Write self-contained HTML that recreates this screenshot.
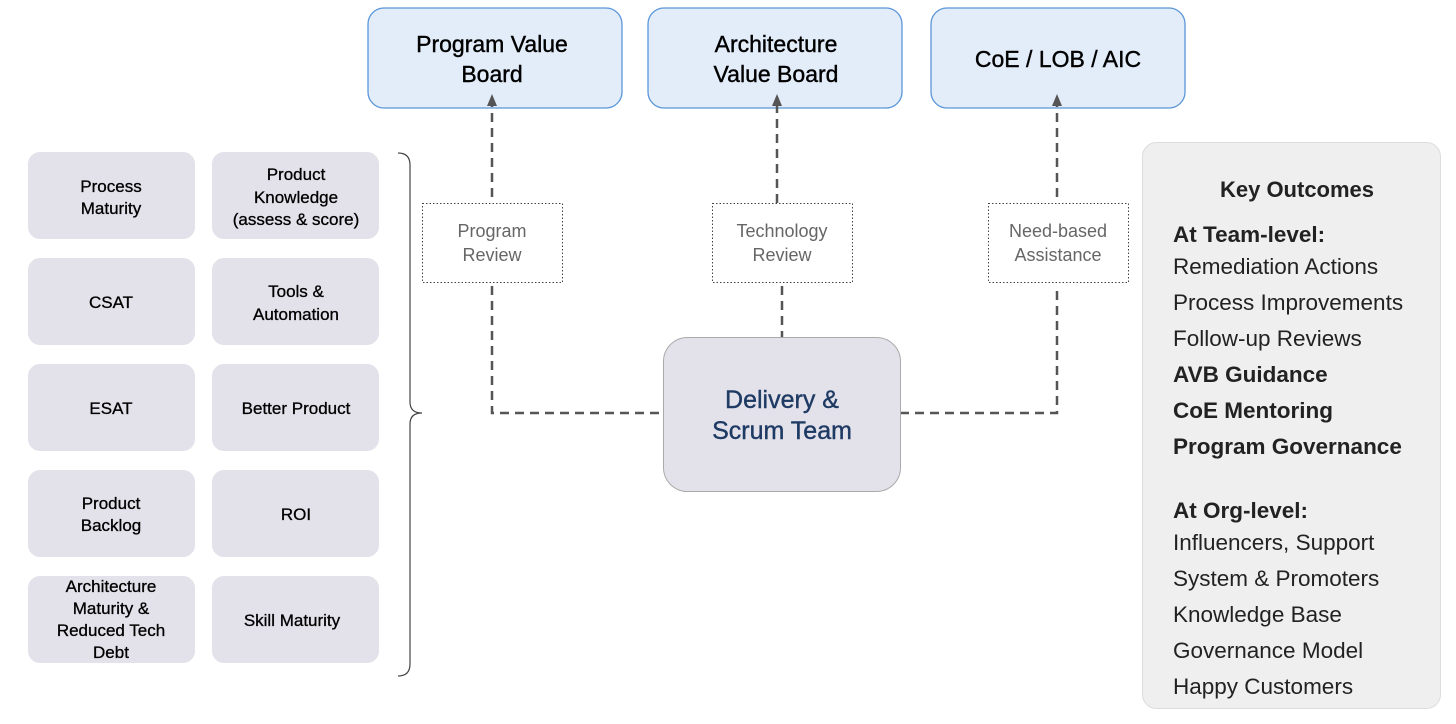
<!DOCTYPE html>
<html><head><meta charset="utf-8"><style>
html,body{margin:0;padding:0;background:#fff;}
svg{display:block;font-family:"Liberation Sans",sans-serif;}
</style></head><body>
<svg width="1456" height="724" viewBox="0 0 1456 724" xmlns="http://www.w3.org/2000/svg">
<defs>
<marker id="ar" markerWidth="12" markerHeight="12" refX="9" refY="5" orient="auto" markerUnits="userSpaceOnUse">
<path d="M0,0 L12,5 L0,10 Z" fill="#555"/>
</marker>
</defs>
<g fill="#e3ecf9" stroke="#5a96d8" stroke-width="1.3">
<rect x="368" y="8" width="254" height="100" rx="16"/>
<rect x="648" y="8" width="254" height="100" rx="16"/>
<rect x="931" y="8" width="254" height="100" rx="16"/>
</g>
<g font-size="23" fill="#000" text-anchor="middle" stroke="#000" stroke-width="0.4">
<text x="492" y="52">Program Value</text><text x="492" y="82">Board</text>
<text x="776" y="52">Architecture</text><text x="776" y="82">Value Board</text>
<text x="1058" y="67">CoE / LOB / AIC</text>
</g>
<g stroke="#555" stroke-width="2.5" stroke-dasharray="9,6" fill="none">
<line x1="492" y1="197" x2="492" y2="97" marker-end="url(#ar)"/>
<line x1="777" y1="203" x2="777" y2="97" marker-end="url(#ar)"/>
<line x1="1057" y1="197" x2="1057" y2="97" marker-end="url(#ar)"/>
<polyline points="492,286 492,413 663,413"/>
<polyline points="900,413 1057,413 1057,286"/>
<line x1="782" y1="286" x2="782" y2="337"/>
</g>
<g fill="#fff" stroke="#444" stroke-width="1" stroke-dasharray="1.5,2">
<rect x="422.5" y="203.5" width="140" height="79"/>
<rect x="712.5" y="203.5" width="140" height="79"/>
<rect x="988.5" y="203.5" width="140" height="79"/>
</g>
<g font-size="18" fill="#666" text-anchor="middle">
<text x="492" y="237">Program</text><text x="492" y="261">Review</text>
<text x="782" y="237">Technology</text><text x="782" y="261">Review</text>
<text x="1058" y="237">Need-based</text><text x="1058" y="261">Assistance</text>
</g>
<rect x="663.5" y="337.5" width="237" height="154" rx="24" fill="#e3e2ea" stroke="#aaa" stroke-width="1"/>
<g font-size="25" fill="#1f3b64" text-anchor="middle" stroke="#1f3b64" stroke-width="0.4">
<text x="782" y="408">Delivery &amp;</text><text x="782" y="439">Scrum Team</text>
</g>
<g fill="#e3e1e9">
<rect x="28" y="152" width="167" height="87" rx="12"/><rect x="212" y="152" width="167" height="87" rx="12"/>
<rect x="28" y="258" width="167" height="87" rx="12"/><rect x="212" y="258" width="167" height="87" rx="12"/>
<rect x="28" y="364" width="167" height="87" rx="12"/><rect x="212" y="364" width="167" height="87" rx="12"/>
<rect x="28" y="470" width="167" height="87" rx="12"/><rect x="212" y="470" width="167" height="87" rx="12"/>
<rect x="28" y="576" width="167" height="87" rx="12"/><rect x="212" y="576" width="167" height="87" rx="12"/>
</g>
<g font-size="17" fill="#000" text-anchor="middle" stroke="#000" stroke-width="0.3">
<text x="111" y="192">Process</text><text x="111" y="214">Maturity</text>
<text x="296" y="180">Product</text><text x="296" y="203">Knowledge</text><text x="296" y="225">(assess &amp; score)</text>
<text x="111" y="308">CSAT</text>
<text x="296" y="297">Tools &amp;</text><text x="296" y="320">Automation</text>
<text x="111" y="414">ESAT</text>
<text x="296" y="414">Better Product</text>
<text x="111" y="509">Product</text><text x="111" y="531">Backlog</text>
<text x="296" y="520">ROI</text>
<text x="111" y="592">Architecture</text><text x="111" y="614">Maturity &amp;</text><text x="111" y="636">Reduced Tech</text><text x="111" y="658">Debt</text>
<text x="292" y="626">Skill  Maturity</text>
</g>
<path d="M398,153 Q410,153 410,165 L410,402 Q410,413 422,413 Q410,413 410,424 L410,664 Q410,676 398,676" fill="none" stroke="#444" stroke-width="1.2"/>
<rect x="1142.5" y="142.5" width="298" height="566" rx="14" fill="#efefef" stroke="#ddd" stroke-width="1"/>
<text x="1297" y="197" font-size="22" font-weight="bold" fill="#222" text-anchor="middle">Key Outcomes</text>
<g font-size="22.5" fill="#222">
<text x="1173" y="242" font-weight="bold">At Team-level:</text>
<text x="1173" y="274">Remediation Actions</text>
<text x="1173" y="310">Process Improvements</text>
<text x="1173" y="346">Follow-up Reviews</text>
<text x="1173" y="382" font-weight="bold">AVB Guidance</text>
<text x="1173" y="418" font-weight="bold">CoE Mentoring</text>
<text x="1173" y="454" font-weight="bold">Program Governance</text>
<text x="1173" y="518" font-weight="bold">At Org-level:</text>
<text x="1173" y="550">Influencers, Support</text>
<text x="1173" y="586">System &amp; Promoters</text>
<text x="1173" y="622">Knowledge Base</text>
<text x="1173" y="658">Governance Model</text>
<text x="1173" y="694">Happy Customers</text>
</g>
</svg>
</body></html>
